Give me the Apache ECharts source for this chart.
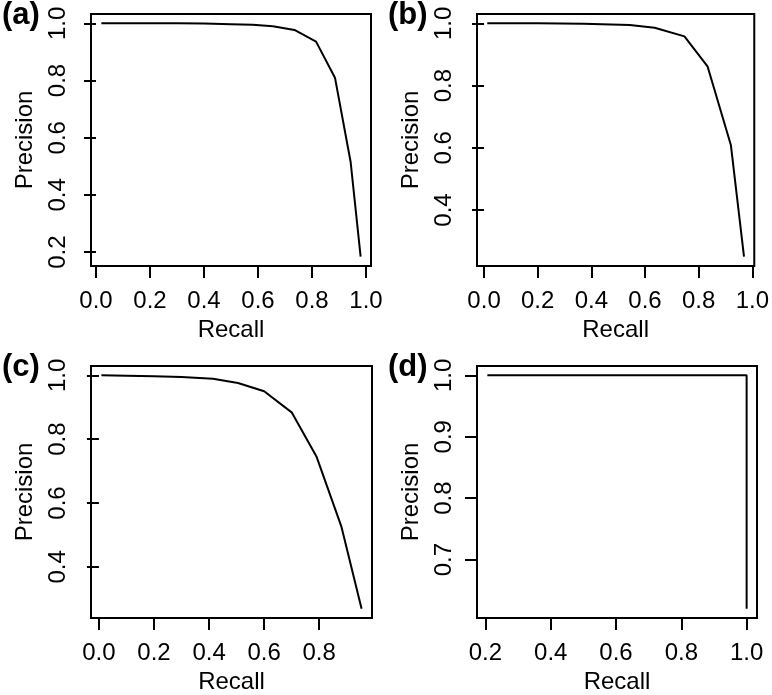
<!DOCTYPE html>
<html>
<head>
<meta charset="utf-8">
<script src="https://cdn.jsdelivr.net/npm/echarts@6/dist/echarts.min.js"></script>
<style>
html,body{margin:0;padding:0;background:#fff;}
#chart{width:772px;height:695px;}
</style>
</head>
<body>
<div id="chart"></div>
<script>
// ---- data ----
const panelLabels = ['(a)', '(b)', '(c)', '(d)'];
const xAxisTitle = 'Recall';
const yAxisTitle = 'Precision';

const recallA = [0.02, 0.1, 0.2, 0.3, 0.4, 0.5, 0.58, 0.655, 0.735, 0.815, 0.885, 0.943, 0.98];
const precisionA = [1.0, 1.0, 1.0, 1.0, 0.999, 0.997, 0.995, 0.99, 0.977, 0.936, 0.81, 0.515, 0.184];

const recallB = [0.012, 0.1, 0.2, 0.37, 0.543, 0.636, 0.747, 0.833, 0.92, 0.969];
const precisionB = [1.0, 1.0, 1.0, 0.999, 0.995, 0.986, 0.958, 0.862, 0.609, 0.25];

const recallC = [0.009, 0.1, 0.2, 0.3, 0.414, 0.505, 0.6, 0.7, 0.79, 0.881, 0.954];
const precisionC = [1.0, 0.999, 0.997, 0.995, 0.989, 0.976, 0.95, 0.884, 0.746, 0.525, 0.269];

const recallD = [0.206, 1.0, 1.0];
const precisionD = [1.0, 1.0, 0.62];

const xTicksA = [0.0, 0.2, 0.4, 0.6, 0.8, 1.0];
const yTicksA = [0.2, 0.4, 0.6, 0.8, 1.0];
const xTicksB = [0.0, 0.2, 0.4, 0.6, 0.8, 1.0];
const yTicksB = [0.4, 0.6, 0.8, 1.0];
const xTicksC = [0.0, 0.2, 0.4, 0.6, 0.8];
const yTicksC = [0.4, 0.6, 0.8, 1.0];
const xTicksD = [0.2, 0.4, 0.6, 0.8, 1.0];
const yTicksD = [0.7, 0.8, 0.9, 1.0];

// ---- layout ----
const FONT = '"Liberation Sans", Arial, Helvetica, sans-serif';
const FS = 24;
const INK = '#000';
const grids = [
  {left: 91, top: 14, width: 280, height: 252},
  {left: 477, top: 14, width: 279, height: 252},
  {left: 91, top: 366, width: 281, height: 252},
  {left: 477, top: 366, width: 280, height: 252}
];
const panels = [
  {x: recallA, y: precisionA, xt: xTicksA, yt: yTicksA},
  {x: recallB, y: precisionB, xt: xTicksB, yt: yTicksB},
  {x: recallC, y: precisionC, xt: xTicksC, yt: yTicksC},
  {x: recallD, y: precisionD, xt: xTicksD, yt: yTicksD}
];

// R-style 4% range extension
function rlim(arr) {
  const lo = Math.min(...arr), hi = Math.max(...arr);
  const pad = (hi - lo) * 0.04;
  return [lo - pad, hi + pad];
}

const option = {
  animation: false,
  backgroundColor: '#fff',
  textStyle: {fontFamily: FONT, color: INK},
  grid: grids.map(g => Object.assign({show: true, borderColor: INK, borderWidth: 2, backgroundColor: 'transparent', containLabel: false}, g)),
  xAxis: panels.map((p, i) => {
    const [mn, mx] = rlim(p.x);
    return {
      type: 'value', gridIndex: i, min: mn, max: mx,
      name: xAxisTitle, nameLocation: 'middle', nameGap: 52,
      nameTextStyle: {fontFamily: FONT, fontSize: FS, color: INK},
      axisLine: {show: false},
      splitLine: {show: false},
      axisTick: {show: true, inside: false, length: 12, lineStyle: {color: INK, width: 2}, customValues: p.xt},
      axisLabel: {show: true, fontFamily: FONT, fontSize: FS, color: INK, margin: 23, customValues: p.xt,
        formatter: v => Number(v).toFixed(1)}
    };
  }),
  yAxis: panels.map((p, i) => {
    const [mn, mx] = rlim(p.y);
    return {
      type: 'value', gridIndex: i, min: mn, max: mx,
      name: yAxisTitle, nameLocation: 'middle', nameGap: 54,
      nameTextStyle: {fontFamily: FONT, fontSize: FS, color: INK},
      axisLine: {show: false},
      splitLine: {show: false},
      axisTick: {show: true, inside: false, length: 12, lineStyle: {color: INK, width: 2}, customValues: p.yt},
      axisLabel: {show: true, rotate: 90, fontFamily: FONT, fontSize: FS, color: INK, margin: 21, customValues: p.yt,
        formatter: v => Number(v).toFixed(1)}
    };
  }),
  series: panels.map((p, i) => ({
    type: 'line', xAxisIndex: i, yAxisIndex: i,
    data: p.x.map((v, k) => [v, p.y[k]]),
    showSymbol: false, symbol: 'none', silent: true,
    lineStyle: {color: INK, width: 2}
  })),
  graphic: panelLabels.map((t, i) => ({
    type: 'text',
    left: grids[i].left - 89,
    top: grids[i].top - 14,
    style: {text: t, fontFamily: FONT, fontSize: 31, fontWeight: 'bold', fill: INK}
  }))
};

const chart = echarts.init(document.getElementById('chart'), null, {renderer: 'canvas'});
chart.setOption(option);
</script>
</body>
</html>
